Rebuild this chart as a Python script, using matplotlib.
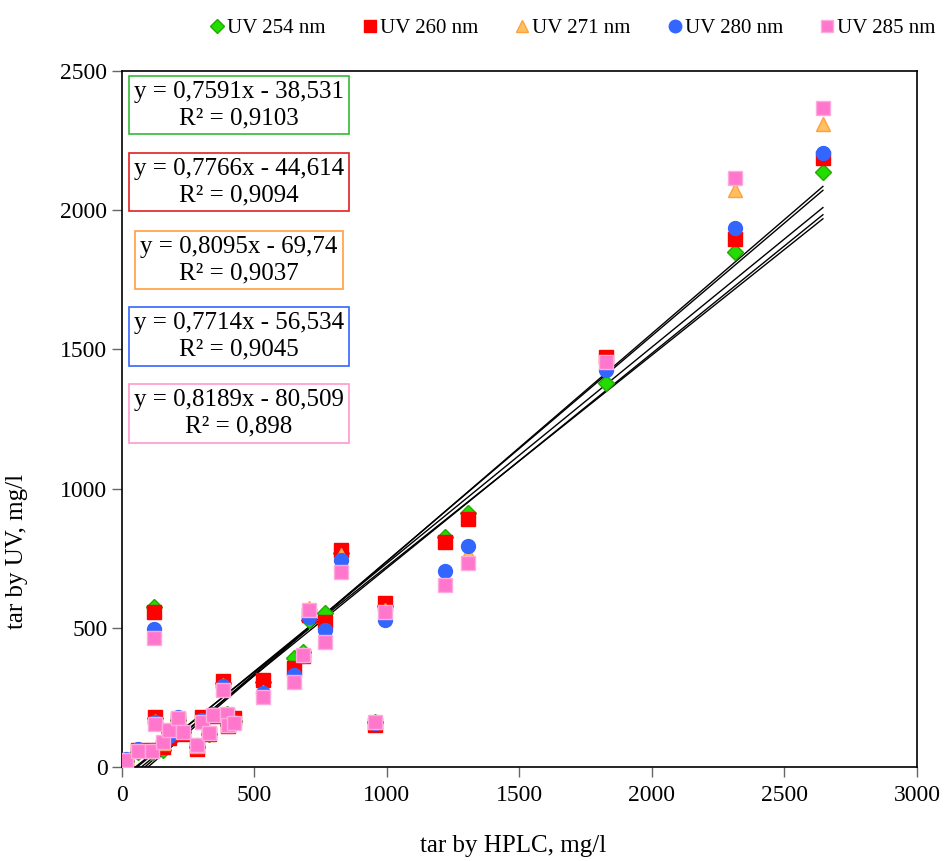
import numpy as np
import matplotlib
matplotlib.use('Agg')
import matplotlib.pyplot as plt

plt.rcParams['font.family'] = ['Liberation Serif', 'DejaVu Serif']

# tar by HPLC (shared x for every wavelength)
hplc = [5, 15, 60, 113, 121, 125, 155, 178, 211, 230, 283, 302, 328, 343, 381,
        396, 400, 423, 532, 649, 683, 706, 766, 826, 955, 992, 1219, 1306,
        1826, 2313, 2645]

uv254 = [10, 20, 55, 55, 575, 175, 60, 125, 170, 125, 70, 170, 120, 185, 300,
         190, 150, 165, 305, 390, 413, 528, 553, 770, 160, 580, 826, 912,
         1379, 1850, 2137]
uv260 = [12, 22, 60, 60, 555, 180, 70, 105, 172, 120, 65, 180, 118, 183, 310,
         185, 148, 176, 313, 355, 400, 545, 521, 779, 150, 589, 808, 891,
         1473, 1895, 2187]
uv271 = [14, 25, 60, 58, 470, 165, 85, 128, 175, 130, 75, 165, 125, 190, 295,
         188, 152, 160, 270, 320, 405, 570, 470, 760, 160, 565, 670, 769,
         1450, 2073, 2310]
uv280 = [15, 28, 65, 62, 495, 160, 90, 110, 178, 128, 78, 168, 122, 192, 290,
         192, 155, 160, 266, 330, 400, 539, 492, 744, 158, 528, 704, 794,
         1426, 1936, 2205]
uv285 = [15, 25, 57, 58, 462, 155, 88, 133, 176, 125, 79, 162, 122, 187, 277,
         190, 150, 158, 250, 305, 402, 564, 449, 700, 162, 557, 654, 733,
         1455, 2116, 2367]

labels = ['UV 254 nm', 'UV 260 nm', 'UV 271 nm', 'UV 280 nm', 'UV 285 nm']
slopes = [0.7591, 0.7766, 0.8095, 0.7714, 0.8189]
intercepts = [-38.531, -44.614, -69.74, -56.534, -80.509]
r2 = ['0,9103', '0,9094', '0,9037', '0,9045', '0,898']
eq_text = ['y = 0,7591x - 38,531', 'y = 0,7766x - 44,614', 'y = 0,8095x - 69,74',
           'y = 0,7714x - 56,534', 'y = 0,8189x - 80,509']

series = [uv254, uv260, uv271, uv280, uv285]
markers = ['D', 's', '^', 'o', 's']
msizes = [8, 10, 10, 10, 10]
faces = ['#22dd00', '#ff0000', '#ffc060', '#3366ff', '#ff77cc']
edges = ['#22aa00', '#ff0000', '#ffa040', '#3366ff', '#ffaadd']
boxcols = ['#33bb33', '#e02020', '#ffa040', '#3366ff', '#ff99cc']

fig = plt.figure(figsize=(9.44, 8.61), dpi=100)
ax = fig.add_axes([0.1292, 0.1092, 0.8422, 0.8083])

xx = np.array([min(hplc), max(hplc)])
for mm in range(len(series)):
    ax.plot(xx, slopes[mm] * xx + intercepts[mm], color='black', lw=1.0, zorder=3)

for mm in range(len(series)):
    ax.plot(hplc, series[mm], linestyle='none', marker=markers[mm], ms=msizes[mm],
            mfc=faces[mm], mec=edges[mm], mew=1, label=labels[mm], zorder=4 + mm)

ax.set_xlim(0, 3000)
ax.set_ylim(0, 2500)
ax.set_xticks(np.arange(0, 3001, 500))
ax.set_yticks(np.arange(0, 2501, 500))
ax.tick_params(direction='out', length=7, width=1, labelsize=17, color='#666666')
ax.tick_params(axis='x', pad=6)
for sp in ax.spines.values():
    sp.set_linewidth(1.2)
    sp.set_color('black')

ax.set_xlabel('tar by HPLC, mg/l', fontsize=18)
ax.set_ylabel('tar by UV, mg/l', fontsize=18)
ax.xaxis.set_label_coords(0.492, -0.098)
ax.yaxis.set_label_coords(-0.118, 0.31)

# equation boxes
ypos = [0.951, 0.8405, 0.728, 0.6185, 0.508]
for mm in range(len(series)):
    ax.text(0.147, ypos[mm], eq_text[mm] + '\nR² = ' + r2[mm], transform=ax.transAxes,
            ha='center', va='center', fontsize=18, linespacing=1.25, zorder=10,
            bbox=dict(boxstyle='square,pad=0.2', fc='white', ec=boxcols[mm], lw=1.2))

fig.legend(loc='upper center', bbox_to_anchor=(0.605, 1.0), ncol=5, frameon=False,
           fontsize=15, handletextpad=0.0, columnspacing=1.6, handlelength=1.0,
           markerscale=0.9)

fig.savefig('out.png', dpi=100)
